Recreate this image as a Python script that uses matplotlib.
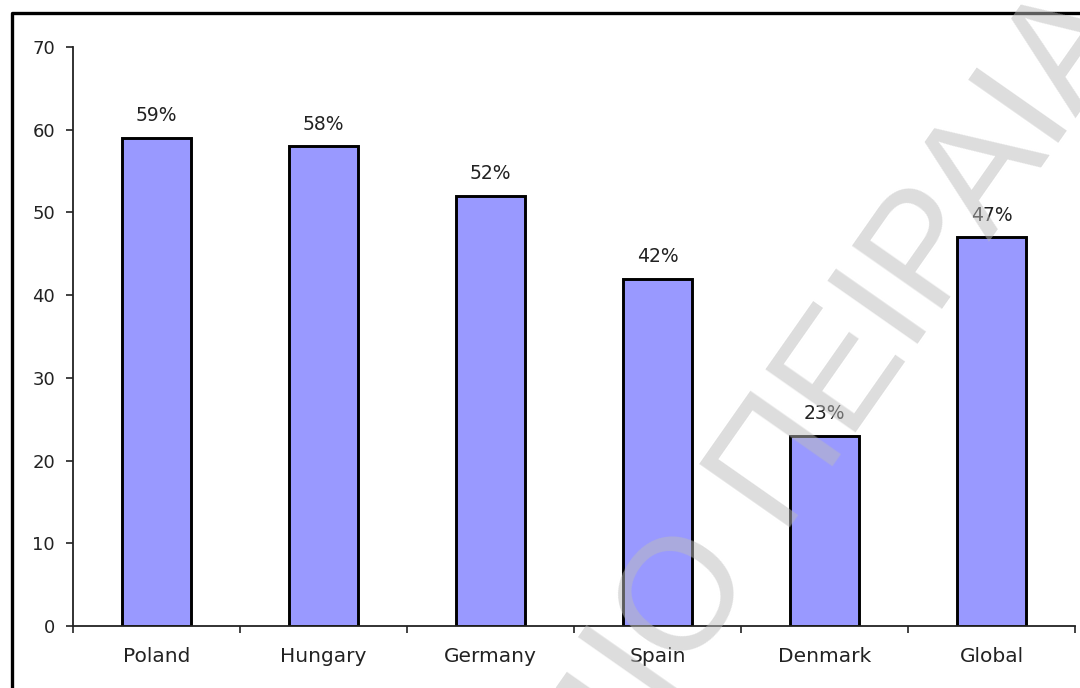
import matplotlib.pyplot as plt
from matplotlib.lines import Line2D
import numpy as np

plt.rcParams['font.family'] = ['DejaVu Sans']

countries = ['Poland', 'Hungary', 'Germany', 'Spain', 'Denmark', 'Global']
values = [59, 58, 52, 42, 23, 47]
labels = ['59%', '58%', '52%', '42%', '23%', '47%']

fig = plt.figure(figsize=(10.8, 6.88), dpi=100)
ax = fig.add_axes([73/1080, 62/688, 1002/1080, 579/688])

x = np.arange(len(countries))
ax.bar(x, values, width=0.41, color='#9999ff', edgecolor='black', linewidth=2.1, zorder=2)

for xi, v, lab in zip(x, values, labels):
    ax.annotate(lab, (xi, v), xytext=(0, 12), textcoords='offset points',
                ha='center', va='baseline', fontsize=13.5, color='#222222')

ax.set_xlim(-0.5, len(countries) - 0.5)
ax.set_ylim(0, 70)
ax.set_yticks(range(0, 71, 10))
ax.set_xticks(x)
ax.set_xticklabels(countries)
ax.set_xticks(np.arange(-0.5, len(countries)), minor=True)
ax.tick_params(axis='x', which='major', length=0, pad=15, labelsize=14.5, labelcolor='#222222')
ax.tick_params(axis='x', which='minor', length=5, width=1.2, direction='out', color='#222222')
ax.tick_params(axis='y', length=5, width=1.2, pad=8, labelsize=13, labelcolor='#222222', color='#222222')

for s in ['top', 'right']:
    ax.spines[s].set_visible(False)
for s in ['left', 'bottom']:
    ax.spines[s].set_linewidth(1.3)
    ax.spines[s].set_color('#222222')

# outer frame (cut at right and bottom)
fig.add_artist(Line2D([12/1080, 12/1080, 1.05], [-0.05, 1 - 13/688, 1 - 13/688],
                      transform=fig.transFigure, color='black', linewidth=2.4))

# watermark, split where "ΙΟ" starts so the visible part lands right
wm = dict(fontsize=115, color='#bcbcbc', alpha=0.5, rotation=55, rotation_mode='anchor',
          va='baseline', family='Liberation Sans', zorder=10)
anchor = (660/1080, 1 - 712/688)
fig.text(*anchor, 'ΠΑΝΕΠΙΣΤΗΜ', ha='right', **wm)
fig.text(*anchor, 'ΙΟ ΠΕΙΡΑΙΑ', ha='left', **wm)

fig.savefig('out.png', dpi=100)
